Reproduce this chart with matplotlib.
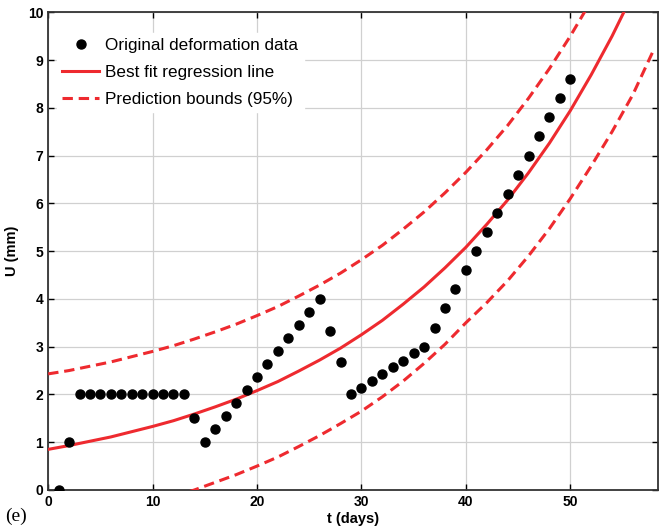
import matplotlib.pyplot as plt

# Data deformasi (hari ke-, U dalam mm)
hari = list(range(1, 51))
deformasi = [0, 1, 2, 2, 2, 2, 2, 2, 2, 2, 2, 2, 2,
             1.5, 1.0, 1.27, 1.55, 1.82, 2.1, 2.37, 2.64, 2.91, 3.18, 3.45, 3.73, 4.0,
             3.33, 2.67, 2.0, 2.14, 2.28, 2.43, 2.57, 2.71, 2.86, 3.0,
             3.4, 3.8, 4.2, 4.6, 5.0, 5.4, 5.8, 6.2, 6.6, 7.0, 7.4, 7.8, 8.2, 8.6]

# Kurva regresi dan batas prediksi, dibaca dari gambar tiap 2 hari
t_kurva = list(range(0, 60, 2))
regresi = [0.85, 0.93, 1.02, 1.11, 1.22, 1.33, 1.45, 1.59, 1.74, 1.90,
           2.08, 2.27, 2.49, 2.72, 2.97, 3.25, 3.55, 3.89, 4.25, 4.65,
           5.08, 5.56, 6.07, 6.64, 7.26, 7.94, 8.69, 9.50, 10.39, 11.36]
batas_atas = [2.43, 2.50, 2.59, 2.68, 2.79, 2.90, 3.02, 3.16, 3.31, 3.47,
              3.65, 3.84, 4.06, 4.29, 4.54, 4.82, 5.12, 5.46, 5.82, 6.22,
              6.65, 7.12, 7.63, 8.20, 8.82, 9.50, 10.24, 11.05, 11.95, 12.92]
t_bawah = list(range(12, 60, 2))
batas_bawah = [-0.14, 0.0, 0.16, 0.32, 0.50, 0.69, 0.91, 1.14, 1.39, 1.65,
               1.95, 2.28, 2.65, 3.05, 3.50, 3.92, 4.38, 4.90, 5.47, 6.10,
               6.78, 7.50, 8.28, 9.22]

merah = '#ee2a2f'
plt.rcParams['font.family'] = ['Liberation Sans', 'DejaVu Sans']

fig = plt.figure(figsize=(6.6, 5.32), dpi=100)
ax = fig.add_axes([0.073, 0.079, 0.924, 0.898])

ax.plot(hari, deformasi, 'o', color='black', markersize=6.5, label='Original deformation data', zorder=4)
ax.plot(t_kurva, regresi, '-', color=merah, linewidth=2.2, label='Best fit regression line', zorder=3)
ax.plot(t_kurva, batas_atas, '--', color=merah, linewidth=2.2, dashes=(3.4, 1.9),
        label='Prediction bounds (95%)', zorder=3)
ax.plot(t_bawah, batas_bawah, '--', color=merah, linewidth=2.2, dashes=(3.4, 1.9), zorder=3)

ax.set_xlim(0, 58.4)
ax.set_ylim(0, 10)
ax.set_xticks([0, 10, 20, 30, 40, 50])
ax.set_yticks(range(0, 11))
ax.grid(True, color='#d0d0d0', linewidth=0.9)
ax.set_axisbelow(True)
ax.tick_params(direction='in', top=True, right=True, length=4, width=1, labelsize=10)
for lab in ax.get_xticklabels() + ax.get_yticklabels():
    lab.set_fontweight('bold')
for sp in ax.spines.values():
    sp.set_linewidth(1.3)
    sp.set_color('#333333')

ax.set_xlabel('t (days)', fontsize=10.5, fontweight='bold', labelpad=2)
ax.set_ylabel('U (mm)', fontsize=10.5, fontweight='bold', labelpad=6)

leg = ax.legend(loc='upper left', frameon=True, fontsize=12.3, handlelength=2.2,
                handletextpad=0.35, borderpad=0.3, labelspacing=0.7,
                bbox_to_anchor=(0.0, 0.975))
leg.get_frame().set_edgecolor('white')
leg.get_frame().set_facecolor('white')
leg.get_frame().set_alpha(1)

fig.text(0.008, 0.02, '(e)', fontsize=14, family='Liberation Serif')

plt.savefig('out.png', dpi=100)
